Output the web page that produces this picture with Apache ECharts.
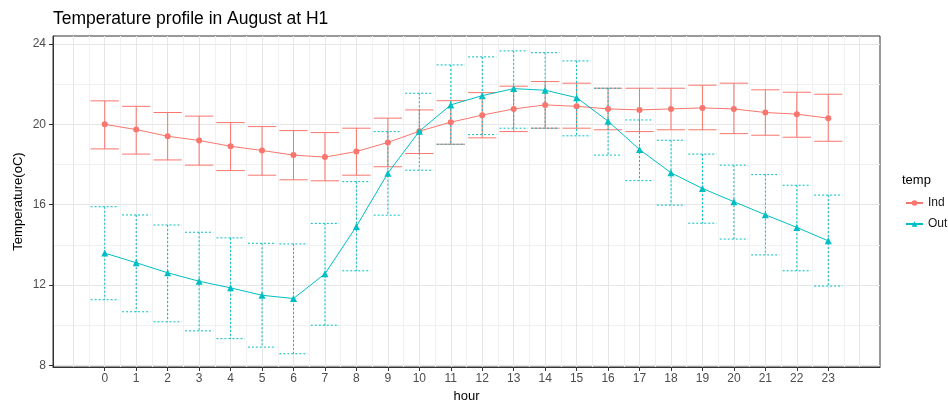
<!DOCTYPE html>
<html>
<head>
<meta charset="utf-8">
<title>Temperature profile in August at H1</title>
<script src="https://cdn.jsdelivr.net/npm/echarts@6/dist/echarts.min.js"></script>
<style>
  html, body { margin: 0; padding: 0; background: #ffffff; }
  #chart { width: 948px; height: 405px; }
</style>
</head>
<body>
<div id="chart"></div>
<script>
// Hourly mean temperature with error bars, indoor vs outdoor
const hours = [0, 1, 2, 3, 4, 5, 6, 7, 8, 9, 10, 11, 12, 13, 14, 15, 16, 17, 18, 19, 20, 21, 22, 23];

const indMean = [20.00, 19.74, 19.41, 19.20, 18.91, 18.70, 18.47, 18.37, 18.65, 19.10, 19.66, 20.11,
                 20.46, 20.77, 20.97, 20.90, 20.77, 20.72, 20.77, 20.82, 20.77, 20.59, 20.51, 20.31];
const indHigh = [21.17, 20.90, 20.59, 20.41, 20.09, 19.89, 19.69, 19.59, 19.81, 20.31, 20.72, 21.18,
                 21.58, 21.90, 22.13, 22.05, 21.80, 21.80, 21.80, 21.95, 22.05, 21.72, 21.60, 21.50];
const indLow  = [18.78, 18.52, 18.23, 17.97, 17.70, 17.47, 17.24, 17.19, 17.47, 17.89, 18.55, 19.01,
                 19.33, 19.64, 19.81, 19.81, 19.73, 19.64, 19.73, 19.73, 19.54, 19.46, 19.36, 19.16];

const outMean = [13.59, 13.11, 12.61, 12.19, 11.86, 11.49, 11.33, 12.56, 14.92, 17.57, 19.66, 20.97,
                 21.43, 21.78, 21.70, 21.33, 20.16, 18.75, 17.59, 16.81, 16.15, 15.50, 14.87, 14.20];
const outHigh = [15.90, 15.49, 14.99, 14.63, 14.35, 14.08, 14.05, 15.07, 17.15, 19.64, 21.55, 22.96,
                 23.36, 23.66, 23.57, 23.16, 21.80, 20.22, 19.21, 18.52, 17.97, 17.50, 16.97, 16.48];
const outLow  = [11.27, 10.67, 10.17,  9.72,  9.33,  8.91,  8.58, 10.00, 12.71, 15.48, 17.72, 19.01,
                 19.49, 19.81, 19.81, 19.43, 18.47, 17.20, 15.98, 15.08, 14.29, 13.50, 12.71, 11.95];

const yTicks = [8, 12, 16, 20, 24];
const yGrid = [8, 10, 12, 14, 16, 18, 20, 22, 24];
const xGrid = [];
for (let v = -1; v <= 24; v += 0.5) xGrid.push(v);

const IND_COLOR = '#F8766D';
const OUT_COLOR = '#00BFC4';
const FONT = '"Liberation Sans", Arial, sans-serif';
const X_MIN = -1.645, X_MAX = 24.645;
const Y_MIN = 7.92, Y_MAX = 24.4;
const CAP = 0.45; // half width of error bar caps, in hours

function errorBarRenderer(color, dashed) {
  return function (params, api) {
    const h = api.value(0);
    const lo = api.value(1);
    const hi = api.value(2);
    const top = api.coord([h, hi]);
    const bot = api.coord([h, lo]);
    const tl = api.coord([h - CAP, hi]);
    const tr = api.coord([h + CAP, hi]);
    const bl = api.coord([h - CAP, lo]);
    const br = api.coord([h + CAP, lo]);
    const style = { stroke: color, lineWidth: 1, lineDash: dashed ? [2, 2] : null, fill: null };
    return {
      type: 'group',
      children: [
        { type: 'line', shape: { x1: top[0], y1: top[1], x2: bot[0], y2: bot[1] }, style: style },
        { type: 'line', shape: { x1: tl[0], y1: tl[1], x2: tr[0], y2: tr[1] }, style: style },
        { type: 'line', shape: { x1: bl[0], y1: bl[1], x2: br[0], y2: br[1] }, style: style }
      ]
    };
  };
}

const indBars = hours.map((h, i) => [h, indLow[i], indHigh[i]]);
const outBars = hours.map((h, i) => [h, outLow[i], outHigh[i]]);
const indPts = hours.map((h, i) => [h, indMean[i]]);
const outPts = hours.map((h, i) => [h, outMean[i]]);

const chart = echarts.init(document.getElementById('chart'), null, { renderer: 'canvas' });

chart.setOption({
  animation: false,
  backgroundColor: '#ffffff',
  textStyle: { fontFamily: FONT },
  title: {
    text: 'Temperature profile in August at H1',
    left: 53,
    top: 10,
    padding: 0,
    textStyle: { fontFamily: FONT, fontSize: 17.5, fontWeight: 'normal', color: '#000000' }
  },
  graphic: [{
    type: 'text',
    left: 902,
    top: 174,
    style: { text: 'temp', fontFamily: FONT, fontSize: 13, fill: '#000000' }
  }],
  legend: {
    data: ['Ind', 'Out'],
    orient: 'vertical',
    left: 900,
    top: 192,
    itemWidth: 17,
    itemHeight: 7,
    itemGap: 9,
    textStyle: { fontFamily: FONT, fontSize: 12, color: '#1a1a1a' }
  },
  grid: {
    left: 53,
    top: 36,
    right: 68,
    bottom: 38,
    outerBoundsMode: 'none',
    containLabel: false,
    show: true,
    borderColor: '#333333',
    borderWidth: 1,
    backgroundColor: 'transparent'
  },
  xAxis: [{
    type: 'value',
    min: X_MIN,
    max: X_MAX,
    name: 'hour',
    nameLocation: 'middle',
    nameGap: 22,
    nameTextStyle: { fontFamily: FONT, fontSize: 13, color: '#000000' },
    axisLine: { show: true, onZero: false, lineStyle: { color: '#333333', width: 1 } },
    axisTick: { show: true, customValues: hours, length: 4, lineStyle: { color: '#333333' } },
    axisLabel: { customValues: hours, margin: 6, fontFamily: FONT, fontSize: 12, color: '#4d4d4d' },
    splitLine: { show: false }
  }, {
    type: 'value',
    min: X_MIN,
    max: X_MAX,
    position: 'top',
    axisLine: { show: false, onZero: false },
    axisTick: { show: false, customValues: xGrid },
    axisLabel: { show: false },
    splitLine: { show: true, lineStyle: { color: ['#e6e6e6', '#f1f1f1'], width: 1 } }
  }],
  yAxis: [{
    type: 'value',
    min: Y_MIN,
    max: Y_MAX,
    name: 'Temperature(oC)',
    nameLocation: 'middle',
    nameGap: 28,
    nameMoveOverlap: false,
    nameRotate: 90,
    nameTextStyle: { fontFamily: FONT, fontSize: 13, color: '#000000' },
    axisLine: { show: true, onZero: false, lineStyle: { color: '#333333', width: 1 } },
    axisTick: { show: true, customValues: yTicks, length: 4, lineStyle: { color: '#333333' } },
    axisLabel: { customValues: yTicks, margin: 7, fontFamily: FONT, fontSize: 12, color: '#4d4d4d' },
    splitLine: { show: false }
  }, {
    type: 'value',
    min: Y_MIN,
    max: Y_MAX,
    position: 'right',
    axisLine: { show: false, onZero: false },
    axisTick: { show: false, customValues: yGrid },
    axisLabel: { show: false },
    splitLine: { show: true, lineStyle: { color: ['#e6e6e6', '#f1f1f1'], width: 1 } }
  }],
  series: [
    {
      name: 'Ind range',
      type: 'custom',
      xAxisIndex: 0,
      yAxisIndex: 0,
      renderItem: errorBarRenderer(IND_COLOR, false),
      encode: { x: 0, y: [1, 2] },
      data: indBars,
      z: 2
    },
    {
      name: 'Out range',
      type: 'custom',
      xAxisIndex: 0,
      yAxisIndex: 0,
      renderItem: errorBarRenderer(OUT_COLOR, true),
      encode: { x: 0, y: [1, 2] },
      data: outBars,
      z: 2
    },
    {
      name: 'Ind',
      type: 'line',
      xAxisIndex: 0,
      yAxisIndex: 0,
      data: indPts,
      symbol: 'circle',
      symbolSize: 6,
      showAllSymbol: true,
      color: IND_COLOR,
      itemStyle: { color: IND_COLOR },
      lineStyle: { color: IND_COLOR, width: 1 },
      z: 3
    },
    {
      name: 'Out',
      type: 'line',
      xAxisIndex: 0,
      yAxisIndex: 0,
      data: outPts,
      symbol: 'triangle',
      symbolSize: 7,
      showAllSymbol: true,
      color: OUT_COLOR,
      itemStyle: { color: OUT_COLOR },
      lineStyle: { color: OUT_COLOR, width: 1 },
      z: 4
    }
  ]
});
</script>
</body>
</html>
